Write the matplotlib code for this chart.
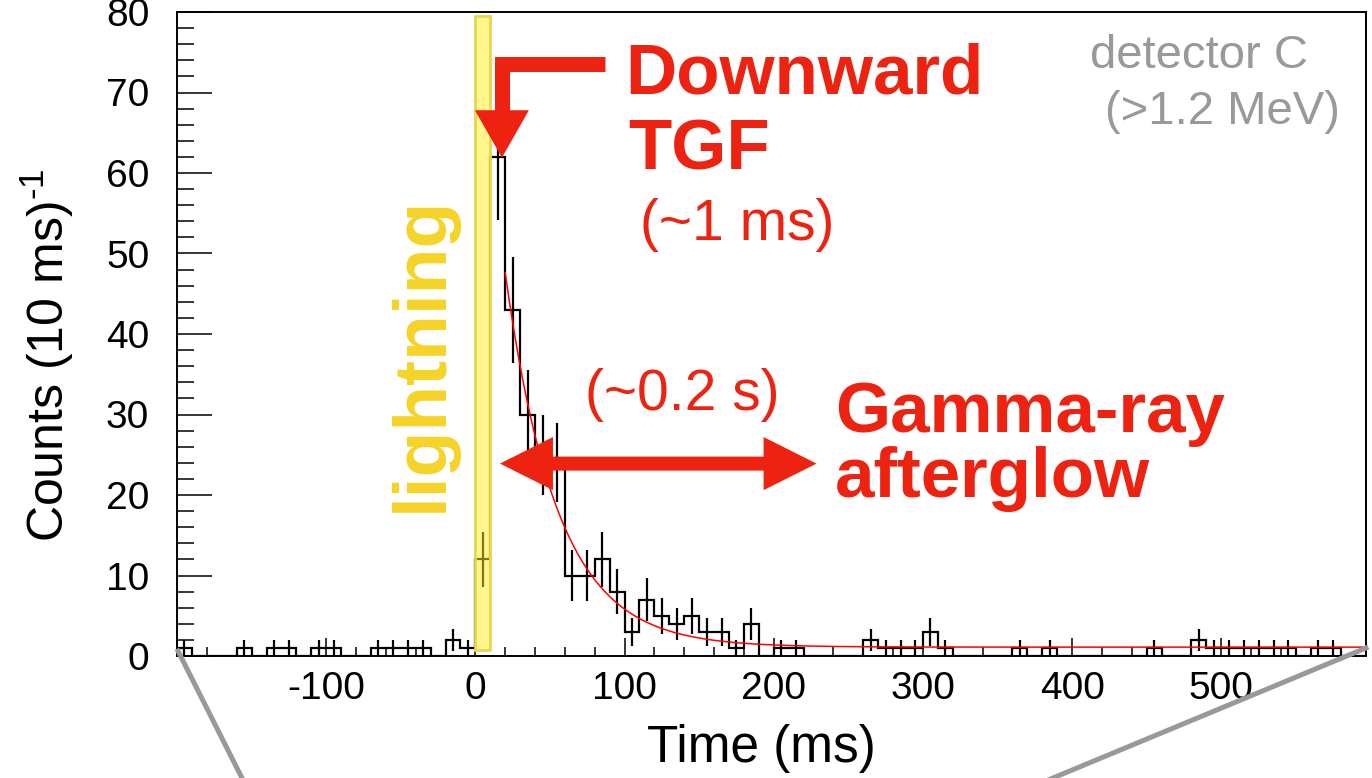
"""Downward TGF + gamma-ray afterglow light curve (detector C, >1.2 MeV)."""
import numpy as np
import matplotlib

matplotlib.use("Agg")
import matplotlib.pyplot as plt  # noqa: E402
from matplotlib.lines import Line2D  # noqa: E402
from matplotlib.patches import Polygon, Rectangle  # noqa: E402
from matplotlib.ticker import FuncFormatter, MultipleLocator  # noqa: E402

plt.rcParams["font.family"] = ["Liberation Sans", "DejaVu Sans"]
plt.rcParams["mathtext.fontset"] = "custom"
plt.rcParams["mathtext.rm"] = "Liberation Sans"
plt.rcParams["mathtext.it"] = "Liberation Sans:italic"
plt.rcParams["axes.unicode_minus"] = False

# histogram: 10 ms bins starting at -200 ms
BIN_START = -200
BIN_WIDTH = 10
COUNTS = [1, 0, 0, 0, 1, 0, 1, 1, 0, 1,       # -200 .. -110
          1, 0, 0, 1, 1, 1, 1, 0, 2, 1,       # -100 .. -10
          12, 62, 43, 30, 25, 24, 10, 10, 12, 8,   # 0 .. 90
          3, 7, 5, 4, 5, 3, 3, 1, 4, 0,       # 100 .. 190
          1, 1, 0, 0, 0, 0, 2, 1, 1, 1,       # 200 .. 290
          3, 1, 0, 0, 0, 0, 1, 0, 1, 0,       # 300 .. 390
          0, 0, 0, 0, 0, 1, 0, 0, 2, 1,       # 400 .. 490
          1, 1, 1, 1, 1, 0, 1, 1, 0, 0]       # 500 .. 590

# exponential + constant fit (red line), parameters
FIT_T0 = 20
FIT_AMP = 46.5
FIT_TAU = 35
FIT_BKG = 1.1

XLIM = (-200, 597)
YLIM = (0, 80)
LIGHTNING_T = (0, 10)

RED = "#ee2211"
YELLOW = "#f5d327"
GRAY = "#999999"

edges = BIN_START + BIN_WIDTH * np.arange(len(COUNTS) + 1)
counts = np.array(COUNTS, dtype=float)
centers = edges[:-1] + BIN_WIDTH / 2

fig = plt.figure(figsize=(13.72, 7.78), dpi=100)
ax = fig.add_axes([177 / 1372, 1 - 656 / 778, 1189 / 1372, 644 / 778])

# lightning band
ax.add_patch(Rectangle((LIGHTNING_T[0], 0.7), LIGHTNING_T[1] - LIGHTNING_T[0], 78.8,
                       facecolor=(1.0, 0.94, 0.1, 0.5), edgecolor="#e8d650", lw=2, zorder=3))

# histogram + sqrt(N) error bars
ax.stairs(counts, edges, color="black", lw=1.6, zorder=2)
nz = counts > 0
ax.errorbar(centers[nz], counts[nz], yerr=np.sqrt(counts[nz]), fmt="none",
            ecolor="black", elinewidth=1.6, capsize=0, zorder=2)

# fit curve
tf = np.linspace(FIT_T0, XLIM[1], 400)
ax.plot(tf, FIT_AMP * np.exp(-(tf - FIT_T0) / FIT_TAU) + FIT_BKG, color="red", lw=1.1, zorder=2)

ax.set_xlim(*XLIM)
ax.set_ylim(*YLIM)
ax.xaxis.set_major_locator(MultipleLocator(100))
ax.xaxis.set_minor_locator(MultipleLocator(20))
ax.xaxis.set_major_formatter(FuncFormatter(lambda v, _: "" if v <= XLIM[0] else f"{v:.0f}"))
ax.yaxis.set_major_locator(MultipleLocator(10))
ax.yaxis.set_minor_locator(MultipleLocator(2))
ax.tick_params(axis="x", which="major", direction="in", length=13, width=1.1, labelsize=28, pad=11)
ax.tick_params(axis="x", which="minor", direction="in", length=6.5, width=1.1)
ax.tick_params(axis="y", which="major", direction="in", length=25, width=1.1, labelsize=28, pad=20)
ax.tick_params(axis="y", which="minor", direction="in", length=12.5, width=1.1)
for s in ax.spines.values():
    s.set_linewidth(1.4)

ax.set_xlabel("Time (ms)", fontsize=37)
ax.xaxis.set_label_coords((761 - 177) / 1189, -(724 - 656) / 644)
ax.set_ylabel(r"Counts (10 ms)$^{\text{-1}}$", fontsize=36)
ax.yaxis.set_label_coords((76 - 177) / 1189, 1 - (355 - 12) / 644)

# annotations
ax.text(-35.5, 37.5, "lightning", rotation=90, color=YELLOW, fontsize=54,
        fontweight="bold", ha="center", va="center", zorder=4)

# L-shaped downward arrow onto the TGF peak
ax.plot([86.8, 17.8, 17.8], [73.5, 73.5, 67.6], color=RED, lw=10.8,
        solid_joinstyle="miter", solid_capstyle="butt", zorder=5)
ax.add_patch(Polygon([(-0.3, 67.8), (35.9, 67.8), (17.8, 61.9)], closed=True,
                     facecolor=RED, edgecolor="none", zorder=5))

# double arrow for the afterglow duration
ay, x0, x1 = 23.9, 16.5, 228.7
hl, hw, bw = 35.5, 3.3, 0.87
ax.add_patch(Polygon([(x0, ay), (x0 + hl, ay + hw), (x0 + hl, ay + bw), (x1 - hl, ay + bw),
                      (x1 - hl, ay + hw), (x1, ay), (x1 - hl, ay - hw), (x1 - hl, ay - bw),
                      (x0 + hl, ay - bw), (x0 + hl, ay - hw)], closed=True,
                     facecolor=RED, edgecolor="none", zorder=5))

ax.text(100.3, 69.9, "Downward", color=RED, fontsize=51, fontweight="bold", va="baseline")
ax.text(102.2, 60.4, "TGF", color=RED, fontsize=51, fontweight="bold", va="baseline")
ax.text(110.3, 53.5, "(~1 ms)", color=RED, fontsize=41, va="center")
ax.text(73.5, 32.4, "(~0.2 s)", color=RED, fontsize=41, va="center")
ax.text(241, 27.8, "Gamma-ray", color=RED, fontsize=51, fontweight="bold", va="baseline")
ax.text(241, 19.75, "afterglow", color=RED, fontsize=51, fontweight="bold", va="baseline")
ax.text(412, 73.0, "detector C", color=GRAY, fontsize=34, va="baseline")
ax.text(422, 66.1, "(>1.2 MeV)", color=GRAY, fontsize=34, va="baseline")

# zoom guide lines below the frame
for (xa, ya), (xb, yb) in [((178, 651), (248, 790)), ((1366, 648), (1024, 790))]:
    fig.add_artist(Line2D([xa / 1372, xb / 1372], [1 - ya / 778, 1 - yb / 778],
                          transform=fig.transFigure, color=GRAY, lw=3.6, clip_on=False))

fig.savefig("out.png", dpi=100)
